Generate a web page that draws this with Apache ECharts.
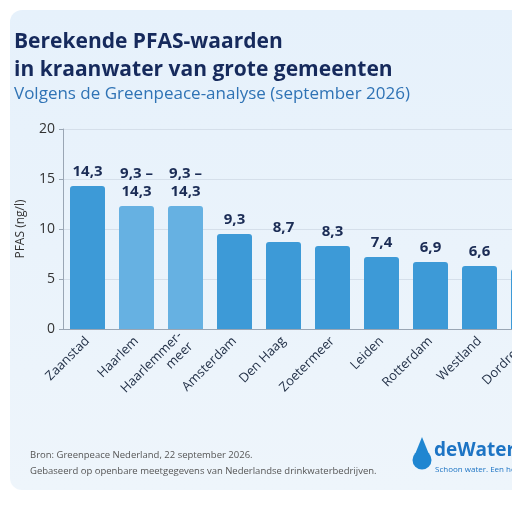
<!DOCTYPE html>
<html><head><meta charset="utf-8">
<script src="https://cdn.jsdelivr.net/npm/echarts@6/dist/echarts.min.js"></script>
<style>html,body{margin:0;padding:0;background:#fff;overflow:hidden;width:512px;height:523px}#c{width:553px;height:523px}</style>
</head><body><div id="c"></div>
<script>
var categories = ['Zaanstad','Haarlem','Haarlemmer-\nmeer','Amsterdam','Den Haag','Zoetermeer','Leiden','Rotterdam','Westland','Dordrecht'];
var values = [14.3, 12.3, 12.3, 9.5, 8.7, 8.3, 7.2, 6.7, 6.3, 6.0];
var valueLabels = ['14,3','9,3 –\n14,3','9,3 –\n14,3','9,3','8,7','8,3','7,4','6,9','6,6','6,3'];
var isRange = [false, true, true, false, false, false, false, false, false, false];
var yTicks = [0, 5, 10, 15, 20];

var chart = echarts.init(document.getElementById('c'));
var data = values.map(function(v,i){
  return {value:v, itemStyle:{color: isRange[i] ? '#66b1e2' : '#3d9ad7'}};
});
chart.setOption({
  animation:false,
  graphic:[
    {type:'rect', shape:{x:10,y:10,width:560,height:480,r:12}, style:{fill:new echarts.graphic.LinearGradient(0,0,0,1,[{offset:0,color:'#e6f1fb'},{offset:1,color:'#eef5fb'}])}, z:-10},
    {type:'text', x:14, y:28, style:{text:'Berekende PFAS-waarden\nin kraanwater van grote gemeenten', font:'bold 21px "Open Sans", sans-serif', fill:'#162a5c', lineHeight:28}},
    {type:'text', x:14, y:86, style:{text:'Volgens de Greenpeace-analyse (september 2026)', font:'17px "Open Sans", sans-serif', fill:'#2f73b5'}},
    {type:'text', x:30, y:447, style:{text:'Bron: Greenpeace Nederland, 22 september 2026.\nGebaseerd op openbare meetgegevens van Nederlandse drinkwaterbedrijven.', font:'9.5px "Open Sans", sans-serif', fill:'#555', lineHeight:16}},
    {type:'polygon', shape:{points:[[422,437],[413.5,458],[430.5,458]]}, style:{fill:'#1f86d1'}},
    {type:'circle', shape:{cx:422,cy:460,r:9.5}, style:{fill:'#1f86d1'}},
    {type:'text', x:434, y:441, style:{text:'deWaterfilter', font:'bold 19px "Open Sans", sans-serif', fill:'#1d74c4'}},
    {type:'text', x:435, y:466, style:{text:'Schoon water. Een heel leven.', font:'8px "Open Sans", sans-serif', fill:'#1d74c4'}}
  ],
  grid:{left:63, top:129, right:0, bottom:194},
  xAxis:{type:'category', data:categories,
    axisLine:{lineStyle:{color:'#9aa6b4'}}, axisTick:{show:false},
    axisLabel:{rotate:45, interval:0, color:'#1f2d44', fontSize:13, fontFamily:'"Open Sans", sans-serif', lineHeight:15, margin:10}},
  yAxis:{type:'value', min:0, max:20, interval:5, name:'PFAS (ng/l)', nameLocation:'middle', nameGap:36,
    nameTextStyle:{color:'#333', fontSize:12, fontFamily:'"Open Sans", sans-serif'},
    axisLine:{show:true, lineStyle:{color:'#9aa6b4'}}, axisTick:{show:true, length:4},
    axisLabel:{color:'#333', fontSize:14, fontFamily:'"Open Sans", sans-serif', formatter:function(v){return yTicks.indexOf(v)>=0?String(v):'';}},
    splitLine:{lineStyle:{color:'#d5dfea'}}},
  series:[{type:'bar', data:data, barWidth:35,
    itemStyle:{borderRadius:[3,3,0,0]},
    label:{show:true, position:'top', distance:5, color:'#1b2c55', fontWeight:'bold', fontSize:15, lineHeight:18, fontFamily:'"Open Sans", sans-serif',
      formatter:function(p){return valueLabels[p.dataIndex];}}}]
});
</script></body></html>
